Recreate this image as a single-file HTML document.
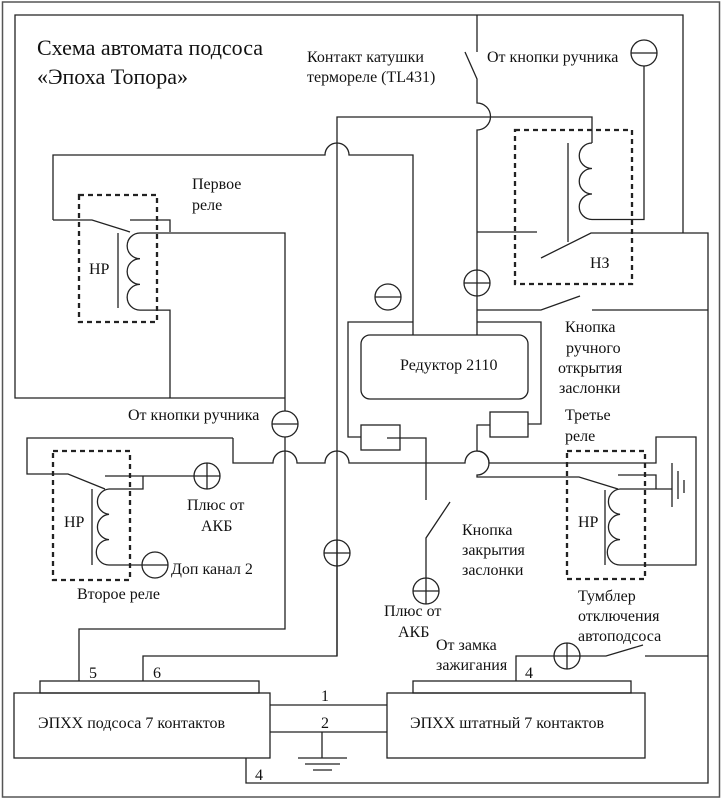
<!DOCTYPE html>
<html><head><meta charset="utf-8"><style>
html,body{margin:0;padding:0;background:#fff;}
svg{display:block;}
text{font-family:"Liberation Serif","DejaVu Serif",serif;font-size:16px;fill:#111;}
</style></head><body>
<svg width="722" height="800" viewBox="0 0 722 800" xmlns="http://www.w3.org/2000/svg">
<g fill="none" stroke="#222" stroke-width="1.3">
<rect x="2.5" y="2" width="717" height="795" stroke="#555" stroke-width="1.5"/>
<path d="M683,233 V15 H15 V398 H285"/>
<path d="M477,15 V52 M465,52 L477,79 V103 A13.5,13.5 0 0 1 477,130 V270 M477,296 V335"/>
<path d="M337,656 V117 H592 V143"/>
<path d="M592,143 a12.5,12.5 0 0 0 0,25.5 a12.5,12.5 0 0 0 0,25.5 a12.5,12.5 0 0 0 0,25.5 H644 V66"/>
<path d="M568,143 V242"/>
<path d="M477,232 H537 M541,258 L591,233 H708 V783 H246 V758"/>
<rect x="515" y="130" width="117" height="154" stroke-dasharray="5,4" stroke-width="2.3"/>
<path d="M477,310 H541 L580,296 M592,310 H708"/>
<path d="M477,322 H541 V424 H528"/>
<path d="M53,220 V155 H325 A12,12 0 0 1 349,155 H413 V335"/>
<path d="M53,220 H92 L130,232 M130,220 H170 V232 M140,233 H285 V411 M285,437 V629 H79 V681"/>
<path d="M140,233 a12.8,12.8 0 0 0 0,25.7 a12.8,12.8 0 0 0 0,25.7 a12.8,12.8 0 0 0 0,25.7 H170 V398"/>
<path d="M118,233 V308"/>
<rect x="79" y="195" width="78" height="127" stroke-dasharray="5,4" stroke-width="2.3"/>
<rect x="361" y="335" width="167" height="64" rx="9"/>
<path d="M413,322 H348 V437 H361"/>
<rect x="361" y="425" width="39" height="25"/>
<path d="M387,438 H426 V500 M450,502 L426,538 V578"/>
<rect x="490" y="412" width="38" height="25"/>
<path d="M490,425 H477 V451 A12,12 0 0 1 477,475 V477 H579 L618,489"/>
<path d="M233,438 H27 V474 H68 L105,489 M233,438 V463 H273 A12,12 0 0 1 297,463 H325 A12,12 0 0 1 349,463 H465 A12,12 0 0 1 489,463 H656 V437 H696 V565 H620"/>
<path d="M620,489 a12.7,12.7 0 0 0 0,25.3 a12.7,12.7 0 0 0 0,25.3 a12.7,12.7 0 0 0 0,25.4"/>
<path d="M620,489 H672 M618,475 H656 V489 M605,490 V565"/>
<path d="M672,463 V507 M678,471 V499 M684,480 V493"/>
<rect x="567" y="451" width="78" height="128" stroke-dasharray="5,4" stroke-width="2.3"/>
<path d="M105,476 H194 M143,476 V489 H109"/>
<path d="M109,489 a12.7,12.7 0 0 0 0,25.3 a12.7,12.7 0 0 0 0,25.3 a12.7,12.7 0 0 0 0,25.4 H142"/>
<path d="M92,489 V565"/>
<rect x="53" y="451" width="77" height="129" stroke-dasharray="5,4" stroke-width="2.3"/>
<path d="M337,566 V656 H143 V681"/>
<rect x="14" y="693" width="256" height="65"/>
<rect x="40" y="681" width="219" height="12"/>
<rect x="387" y="693" width="258" height="65"/>
<rect x="413" y="681" width="218" height="12"/>
<path d="M270,705 H387 M270,732 H387 M322,732 V758 M298,758 H347 M305,764 H340 M313,770 H332"/>
<path d="M516,681 V656 H554 M580,656 H606 L643,645 M645,656 H708"/>
<circle cx="644" cy="53" r="13"/><path d="M631,53 H657"/>
<circle cx="477" cy="283" r="13"/><path d="M464,283 H490 M477,270 V296"/>
<circle cx="388" cy="297" r="13"/><path d="M375,297 H401"/>
<circle cx="285" cy="424" r="13"/><path d="M272,424 H298"/>
<circle cx="207" cy="476" r="13"/><path d="M194,476 H220 M207,463 V489"/>
<circle cx="155" cy="565" r="13"/><path d="M142,565 H168"/>
<circle cx="337" cy="553" r="13"/><path d="M324,553 H350 M337,540 V566"/>
<circle cx="426" cy="591" r="13"/><path d="M413,591 H439 M426,578 V604"/>
<circle cx="567" cy="656" r="13"/><path d="M554,656 H580 M567,643 V669"/>
</g>
<text x="37" y="55" style="font-size:22px">Схема автомата подсоса</text>
<text x="37" y="84" style="font-size:22px">«Эпоха Топора»</text>
<text x="307" y="62">Контакт катушки</text>
<text x="307" y="82">термореле (TL431)</text>
<text x="487" y="62">От кнопки ручника</text>
<text x="192" y="189">Первое</text>
<text x="192" y="210">реле</text>
<text x="89" y="274">НР</text>
<text x="590" y="268">НЗ</text>
<text x="400" y="370">Редуктор 2110</text>
<text x="565" y="332">Кнопка</text>
<text x="566" y="353">ручного</text>
<text x="558" y="373">открытия</text>
<text x="559" y="393">заслонки</text>
<text x="128" y="420">От кнопки ручника</text>
<text x="565" y="420">Третье</text>
<text x="565" y="441">реле</text>
<text x="64" y="527">НР</text>
<text x="578" y="527">НР</text>
<text x="187" y="510">Плюс от</text>
<text x="201" y="531">АКБ</text>
<text x="171" y="574">Доп канал 2</text>
<text x="77" y="599">Второе реле</text>
<text x="462" y="535">Кнопка</text>
<text x="462" y="555">закрытия</text>
<text x="462" y="575">заслонки</text>
<text x="384" y="616">Плюс от</text>
<text x="398" y="637">АКБ</text>
<text x="578" y="601">Тумблер</text>
<text x="578" y="621">отключения</text>
<text x="578" y="641">автоподсоса</text>
<text x="436" y="650">От замка</text>
<text x="436" y="670">зажигания</text>
<text x="89" y="678">5</text>
<text x="153" y="678">6</text>
<text x="525" y="678">4</text>
<text x="321" y="701">1</text>
<text x="321" y="728">2</text>
<text x="255" y="780">4</text>
<text x="38" y="728">ЭПХХ подсоса 7 контактов</text>
<text x="410" y="728">ЭПХХ штатный 7 контактов</text>
</svg>
</body></html>
